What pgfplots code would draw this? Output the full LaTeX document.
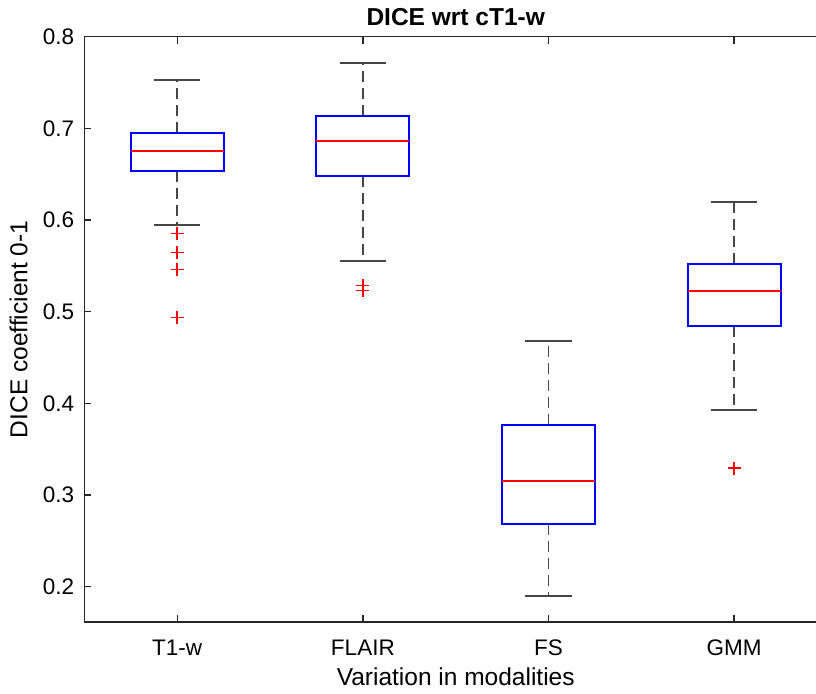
\documentclass[border=0pt]{standalone}
\usepackage{pgfplots}
\pgfplotsset{compat=1.18}
\usepgfplotslibrary{statistics}
\usepackage{fontspec}
\setmainfont{Liberation Sans}

\definecolor{axgray}{RGB}{38,38,38}
\definecolor{whisk}{RGB}{70,70,70}

\pgfplotsset{
  mbox/.style={
    color=red,
    mark=+, mark size=6.5pt,
    mark options={solid, line width=1.5pt, color=red},
    boxplot/draw direction=y,
    boxplot/box extend=0.5,
    boxplot/whisker extend=0.25,
    boxplot/every box/.style={color=blue, line width=2pt},
    boxplot/every median/.style={color=red, line width=2pt},
    boxplot/draw/lower whisker/.code={
      \draw[color=whisk, line width=1.8pt, dash pattern=on 11pt off 6pt]
        (boxplot box cs:\pgfplotsboxplotvalue{lower quartile},0.5) --
        (boxplot box cs:\pgfplotsboxplotvalue{lower whisker},0.5);
      \draw[color=whisk, line width=1.8pt]
        (boxplot whisker cs:\pgfplotsboxplotvalue{lower whisker},0) --
        (boxplot whisker cs:\pgfplotsboxplotvalue{lower whisker},1);
    },
    boxplot/draw/upper whisker/.code={
      \draw[color=whisk, line width=1.8pt, dash pattern=on 11pt off 6pt]
        (boxplot box cs:\pgfplotsboxplotvalue{upper quartile},0.5) --
        (boxplot box cs:\pgfplotsboxplotvalue{upper whisker},0.5);
      \draw[color=whisk, line width=1.8pt]
        (boxplot whisker cs:\pgfplotsboxplotvalue{upper whisker},0) --
        (boxplot whisker cs:\pgfplotsboxplotvalue{upper whisker},1);
    },
  },
}

\begin{document}
\begin{tikzpicture}
\begin{axis}[
  name=ax,
  scale only axis,
  width=742.6pt, height=585.3pt,
  xmin=0.5, xmax=4.5,
  ymin=0.1615, ymax=0.8,
  xtick={1,2,3,4},
  xticklabels={T1-w,FLAIR,FS,GMM},
  ytick={0.2,0.3,0.4,0.5,0.6,0.7,0.8},
  yticklabel style={/pgf/number format/fixed, /pgf/number format/fixed zerofill,
    /pgf/number format/precision=1},
  /pgf/number format/assume math mode=true,
  tick align=inside, tick pos=both,
  major tick length=7pt,
  axis line style={color=axgray, line width=1.4pt},
  every tick/.style={color=axgray, line width=1.4pt},
  yticklabel style={anchor=east, inner sep=0pt, xshift=-10pt,
    font=\fontsize{22.5}{27}\selectfont},
  xticklabel style={anchor=base, inner sep=0pt, yshift=-33pt,
    font=\fontsize{22.5}{27}\selectfont},
  every axis title/.style={at={(axis description cs:0.5,1)}, anchor=base,
    yshift=11pt, inner sep=0pt,
    font=\bfseries\fontsize{24.5}{29}\selectfont},
  every axis x label/.style={at={(axis description cs:0.5,0)}, anchor=base,
    yshift=-63pt, inner sep=0pt,
    font=\fontsize{24.5}{29}\selectfont},
  every axis y label/.style={at={(axis description cs:-0.0768,0.5)},
    rotate=90, anchor=base, inner sep=0pt,
    font=\fontsize{24.5}{29}\selectfont},
  title={DICE wrt cT1-w},
  xlabel={Variation in modalities},
  ylabel={DICE coefficient 0-1},
]
% T1-w
\addplot[mbox, boxplot prepared={draw position=1,
  lower whisker=0.5946, lower quartile=0.6532, median=0.6756,
  upper quartile=0.6946, upper whisker=0.7528}]
  table[row sep=\\, y index=0] {v\\ 0.5855\\ 0.5644\\ 0.5462\\ 0.4939\\};
% FLAIR
\addplot[mbox, boxplot prepared={draw position=2,
  lower whisker=0.5550, lower quartile=0.6480, median=0.6859,
  upper quartile=0.7135, upper whisker=0.7710}]
  table[row sep=\\, y index=0] {v\\ 0.5288\\ 0.5229\\};
% FS
\addplot[mbox, boxplot prepared={draw position=3,
  lower whisker=0.1899, lower quartile=0.2684, median=0.3157,
  upper quartile=0.3767, upper whisker=0.4684}]
  coordinates {};
% GMM
\addplot[mbox, boxplot prepared={draw position=4,
  lower whisker=0.3928, lower quartile=0.4842, median=0.5226,
  upper quartile=0.5520, upper whisker=0.6197}]
  table[row sep=\\, y index=0] {v\\ 0.3295\\};
\end{axis}
\pgfresetboundingbox
\useasboundingbox ([xshift=-84.4pt,yshift=-71pt]ax.south west)
  rectangle ([xshift=-11pt,yshift=36.7pt]ax.north east);
\end{tikzpicture}
\end{document}
